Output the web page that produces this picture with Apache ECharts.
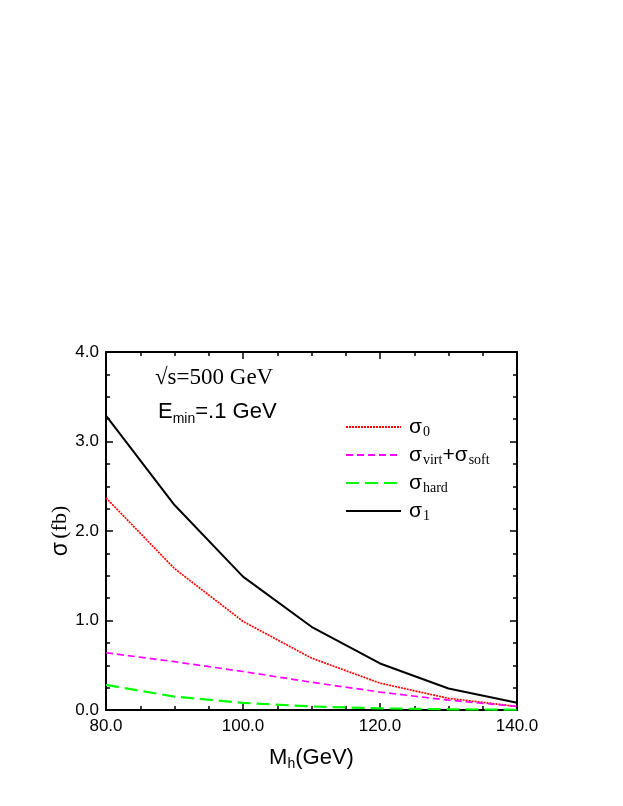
<!DOCTYPE html>
<html>
<head>
<meta charset="utf-8">
<title>sigma vs Mh</title>
<script src="https://cdn.jsdelivr.net/npm/echarts@6/dist/echarts.min.js"></script>
<style>
  html, body { margin: 0; padding: 0; background: #fff; }
  #main { width: 623px; height: 806px; }
</style>
</head>
<body>
<div id="main"></div>
<script>
// Higgs mass (GeV)
var massList = [80, 90, 100, 110, 120, 130, 140];
// cross sections (fb)
var sigma0 = [2.37, 1.58, 0.99, 0.58, 0.30, 0.13, 0.04];
var sigmaVirtSoft = [0.64, 0.54, 0.43, 0.31, 0.20, 0.11, 0.04];
var sigmaHard = [0.28, 0.15, 0.08, 0.04, 0.018, 0.008, 0.003];
var sigma1 = [3.29, 2.29, 1.49, 0.93, 0.52, 0.24, 0.08];

var xTicks = [80, 140, 20];   // min, max, step
var yTicks = [0, 4, 1];

function pairs(vals) {
    return massList.map(function (m, i) { return [m, vals[i]]; });
}

var sans = 'Liberation Sans';
var serif = 'Liberation Serif';

var richSub = {
    g: { fontFamily: sans, fontSize: 21, color: '#000', lineHeight: 24, verticalAlign: 'middle' },
    s: { fontFamily: serif, fontSize: 14, color: '#000', lineHeight: 24, verticalAlign: 'bottom', padding: [0, 0, 0, 1] }
};

var myChart = echarts.init(document.getElementById('main'));

var axisLine = { show: true, onZero: false, lineStyle: { color: '#000', width: 2 } };
var tickIn = { show: true, inside: true, length: 7, lineStyle: { color: '#000', width: 1.5 } };
var minorIn = { show: true, splitNumber: 4, length: 4, lineStyle: { color: '#000', width: 1.5 } };

var option = {
    animation: false,
    backgroundColor: '#fff',
    grid: { left: 106, right: 106, top: 352, bottom: 96, containLabel: false },
    xAxis: [{
        type: 'value',
        min: xTicks[0], max: xTicks[1], interval: xTicks[2],
        axisLine: axisLine,
        axisTick: tickIn,
        minorTick: minorIn,
        splitLine: { show: false },
        axisLabel: {
            margin: 8, fontFamily: sans, fontSize: 17, color: '#000',
            formatter: function (v) { return v.toFixed(1); }
        },
        name: '{m|M}{s|h}{m|(GeV)}',
        nameLocation: 'middle',
        nameGap: 35,
        nameTextStyle: {
            rich: {
                m: { fontFamily: sans, fontSize: 22, color: '#000', lineHeight: 26, verticalAlign: 'middle' },
                s: { fontFamily: sans, fontSize: 14, color: '#000', lineHeight: 26, verticalAlign: 'bottom' }
            }
        }
    }, {
        type: 'value', position: 'top',
        min: xTicks[0], max: xTicks[1], interval: xTicks[2],
        axisLine: axisLine, axisTick: tickIn, minorTick: minorIn,
        splitLine: { show: false }, axisLabel: { show: false }
    }],
    yAxis: [{
        type: 'value',
        min: yTicks[0], max: yTicks[1], interval: yTicks[2],
        axisLine: axisLine,
        axisTick: tickIn,
        minorTick: minorIn,
        splitLine: { show: false },
        axisLabel: {
            margin: 7, fontFamily: sans, fontSize: 17, color: '#000',
            formatter: function (v) { return v.toFixed(1); }
        },
        name: '{g|σ} {t|(fb)}',
        nameLocation: 'middle',
        nameRotate: 90,
        nameGap: 34,
        nameMoveOverlap: false,
        nameTextStyle: {
            rich: {
                g: { fontFamily: sans, fontSize: 23, color: '#000' },
                t: { fontFamily: serif, fontSize: 22, color: '#000' }
            }
        }
    }, {
        type: 'value', position: 'right',
        min: yTicks[0], max: yTicks[1], interval: yTicks[2],
        axisLine: axisLine, axisTick: tickIn, minorTick: minorIn,
        splitLine: { show: false }, axisLabel: { show: false }
    }],
    legend: {
        orient: 'vertical',
        left: 340, top: 410,
        itemWidth: 55, itemHeight: 14, itemGap: 4,
        itemStyle: { opacity: 0 },
        data: ['s0', 'svs', 'sh', 's1'],
        formatter: function (name) {
            if (name === 's0') return '{g|σ}{s|0}';
            if (name === 'svs') return '{g|σ}{s|virt}{g|+σ}{s|soft}';
            if (name === 'sh') return '{g|σ}{s|hard}';
            return '{g|σ}{s|1}';
        },
        textStyle: { rich: richSub, padding: [0, 0, 0, 3], lineHeight: 24 }
    },
    graphic: [{
        type: 'text', left: 155, top: 366,
        style: { text: '√s=500 GeV', font: '23px "Liberation Serif"', fill: '#000' }
    }, {
        type: 'text', left: 158, top: 401,
        style: {
            text: '{a|E}{b|min}{a|=.1 GeV}',
            rich: {
                a: { fontFamily: sans, fontSize: 22, fill: '#000', lineHeight: 28, verticalAlign: 'middle' },
                b: { fontFamily: sans, fontSize: 14, fill: '#000', lineHeight: 28, verticalAlign: 'bottom' }
            }
        }
    }],
    series: [{
        name: 's0', type: 'line', data: pairs(sigma0), symbol: 'none',
        lineStyle: { color: '#ff0000', width: 1.7, type: [2, 1] },
        itemStyle: { color: '#ff0000' }
    }, {
        name: 'svs', type: 'line', data: pairs(sigmaVirtSoft), symbol: 'none',
        lineStyle: { color: '#ff00ff', width: 1.7, type: [7, 4] },
        itemStyle: { color: '#ff00ff' }
    }, {
        name: 'sh', type: 'line', data: pairs(sigmaHard), symbol: 'none',
        lineStyle: { color: '#00ff00', width: 2.2, type: [13, 6] },
        itemStyle: { color: '#00ff00' }
    }, {
        name: 's1', type: 'line', data: pairs(sigma1), symbol: 'none',
        lineStyle: { color: '#000', width: 2 },
        itemStyle: { color: '#000' }
    }]
};

myChart.setOption(option);
</script>
</body>
</html>
